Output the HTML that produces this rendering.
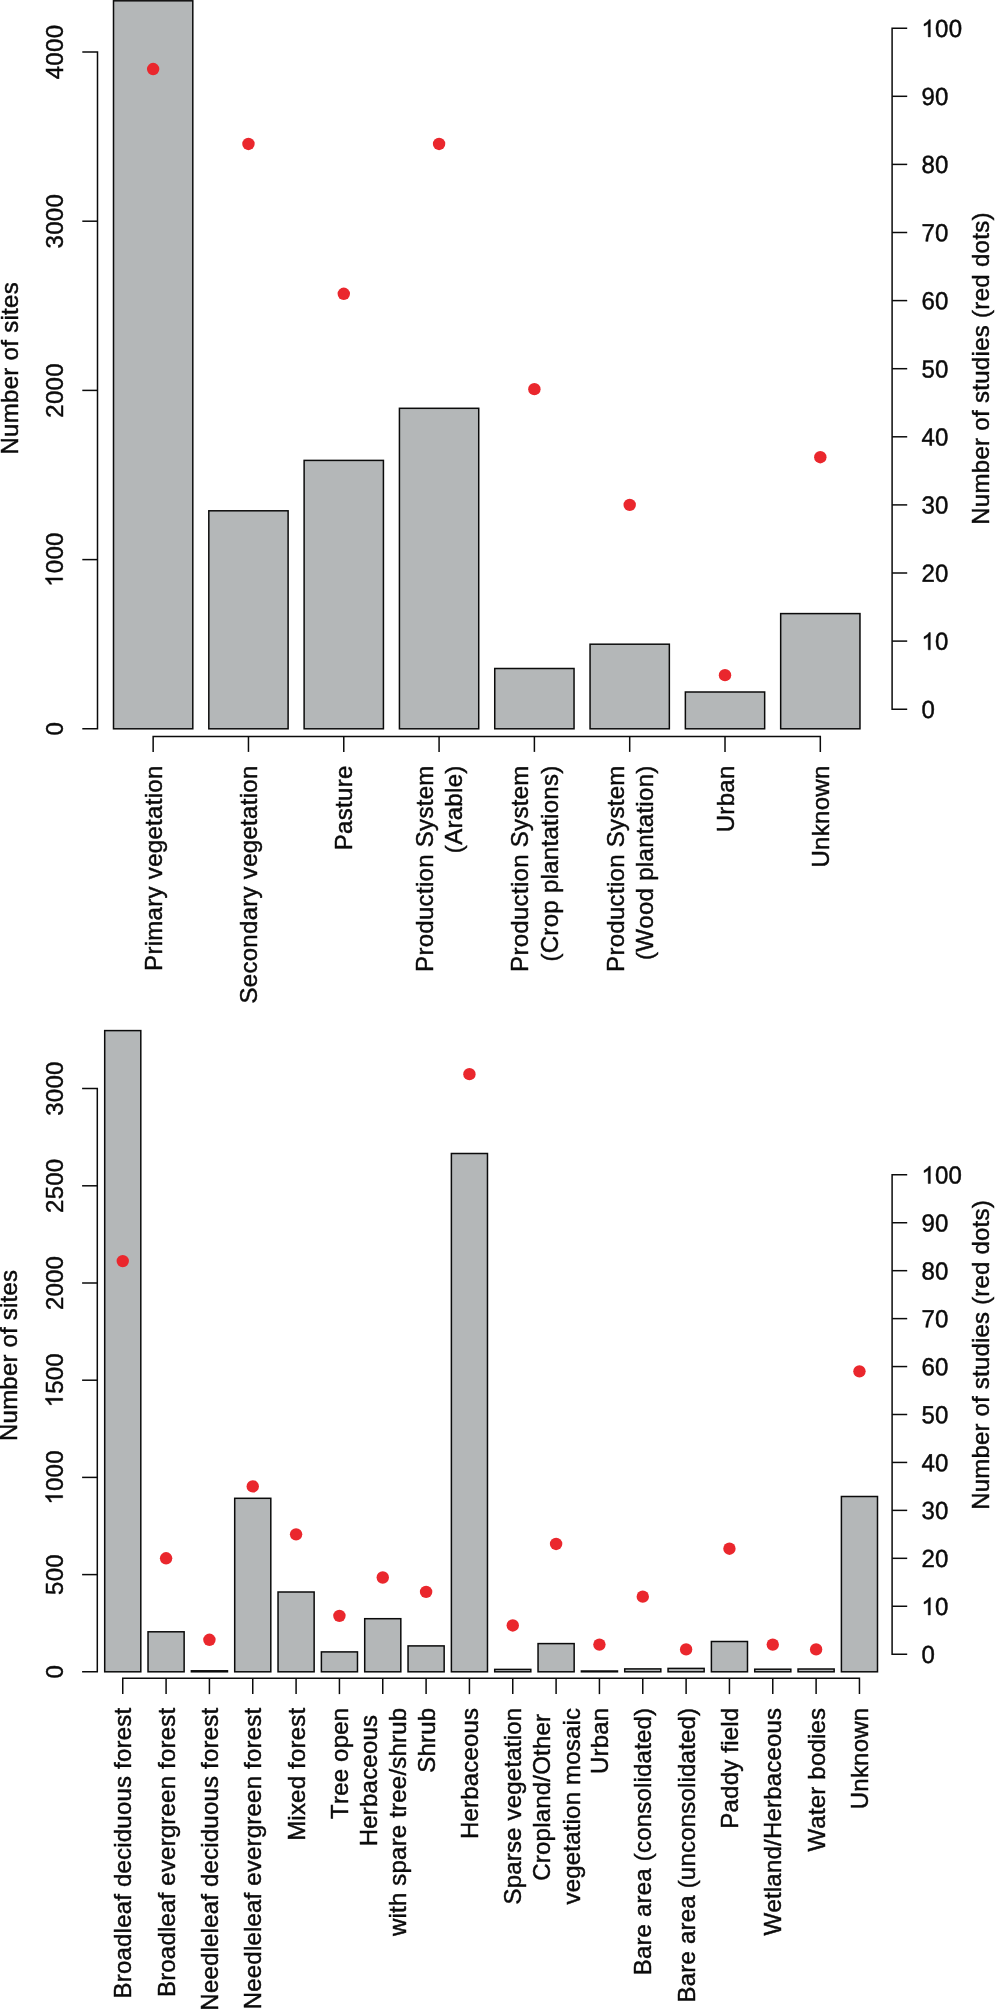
<!DOCTYPE html>
<html><head><meta charset="utf-8"><title>Chart</title>
<style>
html,body{margin:0;padding:0;background:#fff;}
svg{display:block;will-change:transform;}
text{font-family:"Liberation Sans",sans-serif;font-size:24px;fill:#0b0b0b;stroke:#0b0b0b;stroke-width:0.45px;font-kerning:none;}
text.d{transform:scale(1,1.03);}
.h{fill:none;stroke:none;}
.one{fill:#0b0b0b;stroke:#0b0b0b;stroke-width:0.45px;}
</style></head><body>
<svg width="995" height="2010" viewBox="0 0 995 2010">
<rect x="0" y="0" width="995" height="2010" fill="#ffffff"/>
<g fill="#b4b7b8" stroke="#0b0b0b" stroke-width="1.5" stroke-linejoin="miter">
<rect x="113.50" y="0.80" width="79.30" height="728.00"/>
<rect x="208.81" y="510.80" width="79.30" height="218.00"/>
<rect x="304.12" y="460.40" width="79.30" height="268.40"/>
<rect x="399.43" y="408.30" width="79.30" height="320.50"/>
<rect x="494.74" y="668.50" width="79.30" height="60.30"/>
<rect x="590.05" y="644.20" width="79.30" height="84.60"/>
<rect x="685.36" y="692.00" width="79.30" height="36.80"/>
<rect x="780.67" y="613.60" width="79.30" height="115.20"/>
<rect x="104.70" y="1030.60" width="36.10" height="641.20"/>
<rect x="148.03" y="1631.80" width="36.10" height="40.00"/>
<rect x="191.37" y="1670.80" width="36.10" height="1.00"/>
<rect x="234.70" y="1498.30" width="36.10" height="173.50"/>
<rect x="278.04" y="1592.00" width="36.10" height="79.80"/>
<rect x="321.38" y="1651.90" width="36.10" height="19.90"/>
<rect x="364.71" y="1618.70" width="36.10" height="53.10"/>
<rect x="408.05" y="1645.90" width="36.10" height="25.90"/>
<rect x="451.38" y="1153.50" width="36.10" height="518.30"/>
<rect x="494.71" y="1669.40" width="36.10" height="2.40"/>
<rect x="538.05" y="1643.60" width="36.10" height="28.20"/>
<rect x="581.38" y="1671.00" width="36.10" height="0.80"/>
<rect x="624.72" y="1668.90" width="36.10" height="2.90"/>
<rect x="668.06" y="1668.40" width="36.10" height="3.40"/>
<rect x="711.39" y="1641.50" width="36.10" height="30.30"/>
<rect x="754.73" y="1669.20" width="36.10" height="2.60"/>
<rect x="798.06" y="1669.00" width="36.10" height="2.80"/>
<rect x="841.40" y="1496.50" width="36.10" height="175.30"/>
</g>
<g fill="none" stroke="#0b0b0b" stroke-width="1.5" stroke-linecap="butt" stroke-linejoin="miter">
<path d="M82.30 728.80L97.50 728.80L97.50 52.00L82.30 52.00"/>
<path d="M82.30 559.60L97.50 559.60"/>
<path d="M82.30 390.40L97.50 390.40"/>
<path d="M82.30 221.20L97.50 221.20"/>
<path d="M907.20 709.20L892.10 709.20L892.10 28.20L907.20 28.20"/>
<path d="M892.10 641.10L907.20 641.10"/>
<path d="M892.10 573.00L907.20 573.00"/>
<path d="M892.10 504.90L907.20 504.90"/>
<path d="M892.10 436.80L907.20 436.80"/>
<path d="M892.10 368.70L907.20 368.70"/>
<path d="M892.10 300.60L907.20 300.60"/>
<path d="M892.10 232.50L907.20 232.50"/>
<path d="M892.10 164.40L907.20 164.40"/>
<path d="M892.10 96.30L907.20 96.30"/>
<path d="M153.15 751.90L153.15 736.50L820.32 736.50L820.32 751.90"/>
<path d="M248.46 736.50L248.46 751.90"/>
<path d="M343.77 736.50L343.77 751.90"/>
<path d="M439.08 736.50L439.08 751.90"/>
<path d="M534.39 736.50L534.39 751.90"/>
<path d="M629.70 736.50L629.70 751.90"/>
<path d="M725.01 736.50L725.01 751.90"/>
<path d="M82.10 1671.80L97.30 1671.80L97.30 1088.60L82.10 1088.60"/>
<path d="M82.10 1574.60L97.30 1574.60"/>
<path d="M82.10 1477.40L97.30 1477.40"/>
<path d="M82.10 1380.20L97.30 1380.20"/>
<path d="M82.10 1283.00L97.30 1283.00"/>
<path d="M82.10 1185.80L97.30 1185.80"/>
<path d="M907.20 1654.20L892.10 1654.20L892.10 1174.80L907.20 1174.80"/>
<path d="M892.10 1606.26L907.20 1606.26"/>
<path d="M892.10 1558.32L907.20 1558.32"/>
<path d="M892.10 1510.38L907.20 1510.38"/>
<path d="M892.10 1462.44L907.20 1462.44"/>
<path d="M892.10 1414.50L907.20 1414.50"/>
<path d="M892.10 1366.56L907.20 1366.56"/>
<path d="M892.10 1318.62L907.20 1318.62"/>
<path d="M892.10 1270.68L907.20 1270.68"/>
<path d="M892.10 1222.74L907.20 1222.74"/>
<path d="M122.75 1694.10L122.75 1678.20L859.45 1678.20L859.45 1694.10"/>
<path d="M166.09 1678.20L166.09 1694.10"/>
<path d="M209.42 1678.20L209.42 1694.10"/>
<path d="M252.75 1678.20L252.75 1694.10"/>
<path d="M296.09 1678.20L296.09 1694.10"/>
<path d="M339.43 1678.20L339.43 1694.10"/>
<path d="M382.76 1678.20L382.76 1694.10"/>
<path d="M426.10 1678.20L426.10 1694.10"/>
<path d="M469.43 1678.20L469.43 1694.10"/>
<path d="M512.76 1678.20L512.76 1694.10"/>
<path d="M556.10 1678.20L556.10 1694.10"/>
<path d="M599.43 1678.20L599.43 1694.10"/>
<path d="M642.77 1678.20L642.77 1694.10"/>
<path d="M686.11 1678.20L686.11 1694.10"/>
<path d="M729.44 1678.20L729.44 1694.10"/>
<path d="M772.77 1678.20L772.77 1694.10"/>
<path d="M816.11 1678.20L816.11 1694.10"/>
</g>
<g fill="#ea272d" stroke="none">
<circle cx="153.15" cy="69.06" r="6.2"/>
<circle cx="248.46" cy="143.97" r="6.2"/>
<circle cx="343.77" cy="293.79" r="6.2"/>
<circle cx="439.08" cy="143.97" r="6.2"/>
<circle cx="534.39" cy="389.13" r="6.2"/>
<circle cx="629.70" cy="504.90" r="6.2"/>
<circle cx="725.01" cy="675.15" r="6.2"/>
<circle cx="820.32" cy="457.23" r="6.2"/>
<circle cx="122.75" cy="1261.09" r="6.2"/>
<circle cx="166.09" cy="1558.32" r="6.2"/>
<circle cx="209.42" cy="1639.82" r="6.2"/>
<circle cx="252.75" cy="1486.41" r="6.2"/>
<circle cx="296.09" cy="1534.35" r="6.2"/>
<circle cx="339.43" cy="1615.85" r="6.2"/>
<circle cx="382.76" cy="1577.50" r="6.2"/>
<circle cx="426.10" cy="1591.88" r="6.2"/>
<circle cx="469.43" cy="1074.13" r="6.2"/>
<circle cx="512.76" cy="1625.44" r="6.2"/>
<circle cx="556.10" cy="1543.94" r="6.2"/>
<circle cx="599.43" cy="1644.61" r="6.2"/>
<circle cx="642.77" cy="1596.67" r="6.2"/>
<circle cx="686.11" cy="1649.41" r="6.2"/>
<circle cx="729.44" cy="1548.73" r="6.2"/>
<circle cx="772.77" cy="1644.61" r="6.2"/>
<circle cx="816.11" cy="1649.41" r="6.2"/>
<circle cx="859.45" cy="1371.35" r="6.2"/>
</g>
<g style="letter-spacing:0.3px">
<g transform="translate(62.70 728.80) rotate(-90)"><text class="d" text-anchor="middle">0</text></g>
<g transform="translate(62.70 559.60) rotate(-90)"><text class="d" text-anchor="middle"><tspan class="h">1</tspan>000</text><path class="one" d="M-18.35 0.00L-20.46 0.00L-20.46 -13.44Q-21.23 -12.71 -22.46 -11.99Q-23.70 -11.26 -24.68 -10.90L-24.68 -12.94Q-22.91 -13.77 -21.59 -14.95Q-20.26 -16.14 -19.71 -17.25L-18.35 -17.25Z"/></g>
<g transform="translate(62.70 390.40) rotate(-90)"><text class="d" text-anchor="middle">2000</text></g>
<g transform="translate(62.70 221.20) rotate(-90)"><text class="d" text-anchor="middle">3000</text></g>
<g transform="translate(62.70 52.00) rotate(-90)"><text class="d" text-anchor="middle">4000</text></g>
<text transform="translate(17.70 368.30) rotate(-90)" text-anchor="middle">Number of sites</text>
<g transform="translate(921.40 717.90) rotate(0.03)"><text class="d" text-anchor="start">0</text></g>
<g transform="translate(921.40 649.80) rotate(0.03)"><text class="d"><tspan class="h">1</tspan>0</text><path class="one" d="M8.94 0.00L6.83 0.00L6.83 -13.44Q6.07 -12.71 4.83 -11.99Q3.60 -11.26 2.61 -10.90L2.61 -12.94Q4.38 -13.77 5.71 -14.95Q7.03 -16.14 7.58 -17.25L8.94 -17.25Z"/></g>
<g transform="translate(921.40 581.70) rotate(0.03)"><text class="d" text-anchor="start">20</text></g>
<g transform="translate(921.40 513.60) rotate(0.03)"><text class="d" text-anchor="start">30</text></g>
<g transform="translate(921.40 445.50) rotate(0.03)"><text class="d" text-anchor="start">40</text></g>
<g transform="translate(921.40 377.40) rotate(0.03)"><text class="d" text-anchor="start">50</text></g>
<g transform="translate(921.40 309.30) rotate(0.03)"><text class="d" text-anchor="start">60</text></g>
<g transform="translate(921.40 241.20) rotate(0.03)"><text class="d" text-anchor="start">70</text></g>
<g transform="translate(921.40 173.10) rotate(0.03)"><text class="d" text-anchor="start">80</text></g>
<g transform="translate(921.40 105.00) rotate(0.03)"><text class="d" text-anchor="start">90</text></g>
<g transform="translate(921.40 36.90) rotate(0.03)"><text class="d"><tspan class="h">1</tspan>00</text><path class="one" d="M8.94 0.00L6.83 0.00L6.83 -13.44Q6.07 -12.71 4.83 -11.99Q3.60 -11.26 2.61 -10.90L2.61 -12.94Q4.38 -13.77 5.71 -14.95Q7.03 -16.14 7.58 -17.25L8.94 -17.25Z"/></g>
<text transform="translate(989.00 368.50) rotate(-90)" text-anchor="middle">Number of studies (red dots)</text>
<text transform="translate(161.75 765.40) rotate(-90)" text-anchor="end">Primary vegetation</text>
<text transform="translate(257.06 765.40) rotate(-90)" text-anchor="end">Secondary vegetation</text>
<text transform="translate(352.37 765.40) rotate(-90)" text-anchor="end">Pasture</text>
<text transform="translate(433.08 765.40) rotate(-90)" text-anchor="end">Production System</text>
<text transform="translate(462.28 765.40) rotate(-90)" text-anchor="end">(Arable)</text>
<text transform="translate(528.39 765.40) rotate(-90)" text-anchor="end">Production System</text>
<text transform="translate(557.59 765.40) rotate(-90)" text-anchor="end">(Crop plantations)</text>
<text transform="translate(623.70 765.40) rotate(-90)" text-anchor="end">Production System</text>
<text transform="translate(652.90 765.40) rotate(-90)" text-anchor="end">(Wood plantation)</text>
<text transform="translate(733.61 765.40) rotate(-90)" text-anchor="end">Urban</text>
<text transform="translate(828.92 765.40) rotate(-90)" text-anchor="end">Unknown</text>
</g>
<g style="letter-spacing:0.2px">
<g transform="translate(62.70 1671.80) rotate(-90)"><text class="d" text-anchor="middle">0</text></g>
<g transform="translate(62.70 1574.60) rotate(-90)"><text class="d" text-anchor="middle">500</text></g>
<g transform="translate(62.70 1477.40) rotate(-90)"><text class="d" text-anchor="middle"><tspan class="h">1</tspan>000</text><path class="one" d="M-18.15 0.00L-20.26 0.00L-20.26 -13.44Q-21.02 -12.71 -22.26 -11.99Q-23.50 -11.26 -24.48 -10.90L-24.48 -12.94Q-22.71 -13.77 -21.39 -14.95Q-20.06 -16.14 -19.51 -17.25L-18.15 -17.25Z"/></g>
<g transform="translate(62.70 1380.20) rotate(-90)"><text class="d" text-anchor="middle"><tspan class="h">1</tspan>500</text><path class="one" d="M-18.15 0.00L-20.26 0.00L-20.26 -13.44Q-21.02 -12.71 -22.26 -11.99Q-23.50 -11.26 -24.48 -10.90L-24.48 -12.94Q-22.71 -13.77 -21.39 -14.95Q-20.06 -16.14 -19.51 -17.25L-18.15 -17.25Z"/></g>
<g transform="translate(62.70 1283.00) rotate(-90)"><text class="d" text-anchor="middle">2000</text></g>
<g transform="translate(62.70 1185.80) rotate(-90)"><text class="d" text-anchor="middle">2500</text></g>
<g transform="translate(62.70 1088.60) rotate(-90)"><text class="d" text-anchor="middle">3000</text></g>
<text transform="translate(17.30 1355.40) rotate(-90)" text-anchor="middle">Number of sites</text>
<g transform="translate(921.40 1662.90) rotate(0.03)"><text class="d" text-anchor="start">0</text></g>
<g transform="translate(921.40 1614.96) rotate(0.03)"><text class="d"><tspan class="h">1</tspan>0</text><path class="one" d="M8.94 0.00L6.83 0.00L6.83 -13.44Q6.07 -12.71 4.83 -11.99Q3.60 -11.26 2.61 -10.90L2.61 -12.94Q4.38 -13.77 5.71 -14.95Q7.03 -16.14 7.58 -17.25L8.94 -17.25Z"/></g>
<g transform="translate(921.40 1567.02) rotate(0.03)"><text class="d" text-anchor="start">20</text></g>
<g transform="translate(921.40 1519.08) rotate(0.03)"><text class="d" text-anchor="start">30</text></g>
<g transform="translate(921.40 1471.14) rotate(0.03)"><text class="d" text-anchor="start">40</text></g>
<g transform="translate(921.40 1423.20) rotate(0.03)"><text class="d" text-anchor="start">50</text></g>
<g transform="translate(921.40 1375.26) rotate(0.03)"><text class="d" text-anchor="start">60</text></g>
<g transform="translate(921.40 1327.32) rotate(0.03)"><text class="d" text-anchor="start">70</text></g>
<g transform="translate(921.40 1279.38) rotate(0.03)"><text class="d" text-anchor="start">80</text></g>
<g transform="translate(921.40 1231.44) rotate(0.03)"><text class="d" text-anchor="start">90</text></g>
<g transform="translate(921.40 1183.50) rotate(0.03)"><text class="d"><tspan class="h">1</tspan>00</text><path class="one" d="M8.94 0.00L6.83 0.00L6.83 -13.44Q6.07 -12.71 4.83 -11.99Q3.60 -11.26 2.61 -10.90L2.61 -12.94Q4.38 -13.77 5.71 -14.95Q7.03 -16.14 7.58 -17.25L8.94 -17.25Z"/></g>
<text transform="translate(989.00 1355.00) rotate(-90)" text-anchor="middle">Number of studies (red dots)</text>
<text transform="translate(131.45 1707.70) rotate(-90)" text-anchor="end">Broadleaf deciduous forest</text>
<text transform="translate(174.78 1707.70) rotate(-90)" text-anchor="end">Broadleaf evergreen forest</text>
<text transform="translate(218.12 1707.70) rotate(-90)" text-anchor="end">Needleleaf deciduous forest</text>
<text transform="translate(261.45 1707.70) rotate(-90)" text-anchor="end">Needleleaf evergreen forest</text>
<text transform="translate(304.79 1707.70) rotate(-90)" text-anchor="end">Mixed forest</text>
<text transform="translate(348.12 1707.70) rotate(-90)" text-anchor="end">Tree open</text>
<text transform="translate(376.96 1714.80) rotate(-90)" text-anchor="end">Herbaceous</text>
<text transform="translate(406.16 1707.70) rotate(-90)" text-anchor="end">with spare tree/shrub</text>
<text transform="translate(434.80 1707.70) rotate(-90)" text-anchor="end">Shrub</text>
<text transform="translate(478.13 1707.70) rotate(-90)" text-anchor="end">Herbaceous</text>
<text transform="translate(521.47 1707.70) rotate(-90)" text-anchor="end">Sparse vegetation</text>
<text transform="translate(550.30 1713.80) rotate(-90)" text-anchor="end">Cropland/Other</text>
<text transform="translate(579.50 1707.70) rotate(-90)" text-anchor="end">vegetation mosaic</text>
<text transform="translate(608.13 1707.70) rotate(-90)" text-anchor="end">Urban</text>
<text transform="translate(651.47 1707.70) rotate(-90)" text-anchor="end">Bare area (consolidated)</text>
<text transform="translate(694.81 1707.70) rotate(-90)" text-anchor="end">Bare area (unconsolidated)</text>
<text transform="translate(738.14 1707.70) rotate(-90)" text-anchor="end">Paddy field</text>
<text transform="translate(781.48 1707.70) rotate(-90)" text-anchor="end">Wetland/Herbaceous</text>
<text transform="translate(824.81 1707.70) rotate(-90)" text-anchor="end">Water bodies</text>
<text transform="translate(868.15 1707.70) rotate(-90)" text-anchor="end">Unknown</text>
</g>
</svg>
</body></html>
